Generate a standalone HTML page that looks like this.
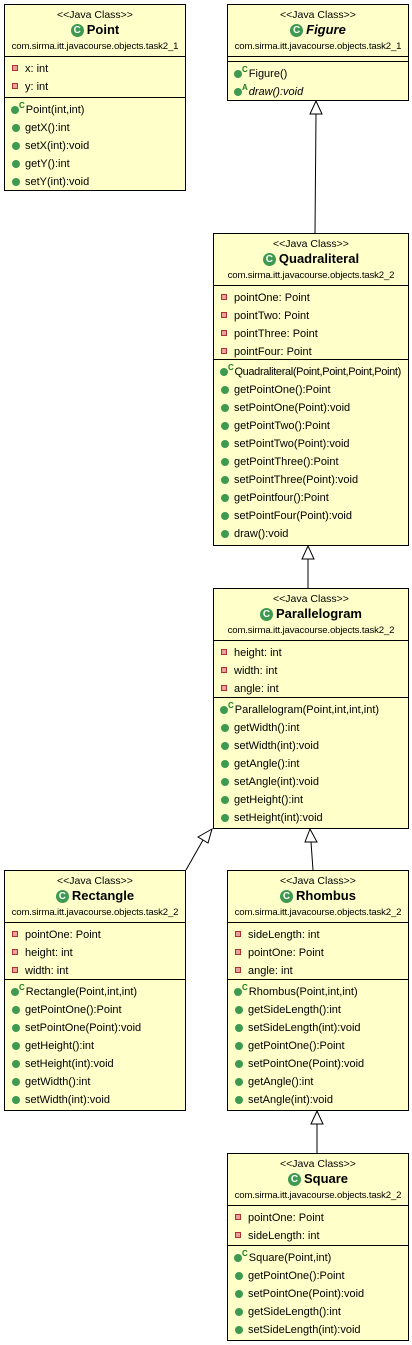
<!DOCTYPE html>
<html><head><meta charset="utf-8"><style>
body{margin:0;width:412px;height:1345px;background:#fff;position:relative;font-family:"Liberation Sans",sans-serif;font-size:11px;color:#000;overflow:hidden}
.b{position:absolute;background:#ffffca;border:1px solid #000;box-sizing:border-box}
.h{height:52px;border-bottom:1px solid #000;box-sizing:border-box;text-align:center;position:relative}
.st{position:absolute;top:4px;left:0;right:0;font-size:10.5px}
.nm{position:absolute;top:17px;left:0;right:0;font-weight:bold;font-size:13px}
.nm i{font-style:italic}
.pk{position:absolute;top:36px;left:0;right:0;font-size:9.6px;letter-spacing:-0.15px;white-space:nowrap}
.c{box-sizing:border-box;border-bottom:1px solid #000;padding-top:3px}
.c:last-child{border-bottom:none}
.r{height:18px;line-height:18px;padding-left:7px;white-space:nowrap;position:relative;overflow:visible}
.a:before{content:"";display:inline-block;width:4px;height:4px;border:1px solid #b03030;background:#e8a0a0;margin-right:7px;vertical-align:1px}
.m:before{content:"";display:inline-block;width:8px;height:8px;border-radius:50%;background:#3d9a50;margin-right:5px;vertical-align:-1px}
.k{padding-left:6px}
.k:before{content:"";display:inline-block;width:8px;height:8px;border-radius:50%;background:#3d9a50;vertical-align:-1px}
.k b{font-size:8px;color:#1a7a20;font-weight:bold;position:relative;top:-5px;line-height:0;margin-right:1px}
.gi{display:inline-block;width:13px;height:13px;border-radius:50%;background:#3d9a50;color:#fff;font-size:10px;line-height:13px;text-align:center;vertical-align:1px;margin-right:3px}
</style></head><body>
<svg width="412" height="1345" style="position:absolute;left:0;top:0">
<g stroke="#000" fill="#fff" stroke-width="1">
<line x1="316" y1="114" x2="315" y2="233"/><polygon points="316,101 310,114 322,114"/>
<line x1="308" y1="559" x2="308" y2="588"/><polygon points="308,546 302,559 314,559"/>
<line x1="203" y1="840" x2="186" y2="870"/><polygon points="212,829 198,837 208,843"/>
<line x1="311" y1="842" x2="313" y2="870"/><polygon points="310,829 305,842 317,842"/>
<line x1="317" y1="1124" x2="317" y2="1153"/><polygon points="317,1111 311,1124 323,1124"/>
</g></svg>

<div class="b" style="left:4px;top:4px;width:182px;height:187px">
<div class="h"><div class="st">&lt;&lt;Java Class&gt;&gt;</div><div class="nm"><span class="gi">C</span>Point</div><div class="pk">com.sirma.itt.javacourse.objects.task2_1</div></div>
<div class="c" style="height:41px"><div class="r a">x: int</div><div class="r a">y: int</div></div>
<div class="c"><div class="r k"><b>C</b>Point(int,int)</div><div class="r m">getX():int</div><div class="r m">setX(int):void</div><div class="r m">getY():int</div><div class="r m">setY(int):void</div></div>
</div>

<div class="b" style="left:227px;top:4px;width:182px;height:97px">
<div class="h"><div class="st">&lt;&lt;Java Class&gt;&gt;</div><div class="nm"><span class="gi">C</span><i>Figure</i></div><div class="pk">com.sirma.itt.javacourse.objects.task2_1</div></div>
<div class="c" style="height:5px;padding:0"></div>
<div class="c"><div class="r k"><b>C</b>Figure()</div><div class="r k"><b>A</b><i>draw():void</i></div></div>
</div>

<div class="b" style="left:213px;top:233px;width:196px;height:313px">
<div class="h"><div class="st">&lt;&lt;Java Class&gt;&gt;</div><div class="nm"><span class="gi">C</span>Quadraliteral</div><div class="pk">com.sirma.itt.javacourse.objects.task2_2</div></div>
<div class="c" style="height:74px"><div class="r a">pointOne: Point</div><div class="r a">pointTwo: Point</div><div class="r a">pointThree: Point</div><div class="r a">pointFour: Point</div></div>
<div class="c"><div class="r k" style="letter-spacing:-0.35px"><b>C</b>Quadraliteral(Point,Point,Point,Point)</div><div class="r m">getPointOne():Point</div><div class="r m">setPointOne(Point):void</div><div class="r m">getPointTwo():Point</div><div class="r m">setPointTwo(Point):void</div><div class="r m">getPointThree():Point</div><div class="r m">setPointThree(Point):void</div><div class="r m">getPointfour():Point</div><div class="r m">setPointFour(Point):void</div><div class="r m">draw():void</div></div>
</div>

<div class="b" style="left:213px;top:588px;width:196px;height:241px">
<div class="h"><div class="st">&lt;&lt;Java Class&gt;&gt;</div><div class="nm"><span class="gi">C</span>Parallelogram</div><div class="pk">com.sirma.itt.javacourse.objects.task2_2</div></div>
<div class="c" style="height:57px"><div class="r a">height: int</div><div class="r a">width: int</div><div class="r a">angle: int</div></div>
<div class="c"><div class="r k"><b>C</b>Parallelogram(Point,int,int,int)</div><div class="r m">getWidth():int</div><div class="r m">setWidth(int):void</div><div class="r m">getAngle():int</div><div class="r m">setAngle(int):void</div><div class="r m">getHeight():int</div><div class="r m">setHeight(int):void</div></div>
</div>

<div class="b" style="left:4px;top:870px;width:182px;height:241px">
<div class="h"><div class="st">&lt;&lt;Java Class&gt;&gt;</div><div class="nm"><span class="gi">C</span>Rectangle</div><div class="pk">com.sirma.itt.javacourse.objects.task2_2</div></div>
<div class="c" style="height:57px"><div class="r a">pointOne: Point</div><div class="r a">height: int</div><div class="r a">width: int</div></div>
<div class="c"><div class="r k"><b>C</b>Rectangle(Point,int,int)</div><div class="r m">getPointOne():Point</div><div class="r m">setPointOne(Point):void</div><div class="r m">getHeight():int</div><div class="r m">setHeight(int):void</div><div class="r m">getWidth():int</div><div class="r m">setWidth(int):void</div></div>
</div>

<div class="b" style="left:227px;top:870px;width:182px;height:241px">
<div class="h"><div class="st">&lt;&lt;Java Class&gt;&gt;</div><div class="nm"><span class="gi">C</span>Rhombus</div><div class="pk">com.sirma.itt.javacourse.objects.task2_2</div></div>
<div class="c" style="height:57px"><div class="r a">sideLength: int</div><div class="r a">pointOne: Point</div><div class="r a">angle: int</div></div>
<div class="c"><div class="r k"><b>C</b>Rhombus(Point,int,int)</div><div class="r m">getSideLength():int</div><div class="r m">setSideLength(int):void</div><div class="r m">getPointOne():Point</div><div class="r m">setPointOne(Point):void</div><div class="r m">getAngle():int</div><div class="r m">setAngle(int):void</div></div>
</div>

<div class="b" style="left:227px;top:1153px;width:182px;height:188px">
<div class="h"><div class="st">&lt;&lt;Java Class&gt;&gt;</div><div class="nm"><span class="gi">C</span>Square</div><div class="pk">com.sirma.itt.javacourse.objects.task2_2</div></div>
<div class="c" style="height:40px"><div class="r a">pointOne: Point</div><div class="r a">sideLength: int</div></div>
<div class="c"><div class="r k"><b>C</b>Square(Point,int)</div><div class="r m">getPointOne():Point</div><div class="r m">setPointOne(Point):void</div><div class="r m">getSideLength():int</div><div class="r m">setSideLength(int):void</div></div>
</div>
</body></html>
